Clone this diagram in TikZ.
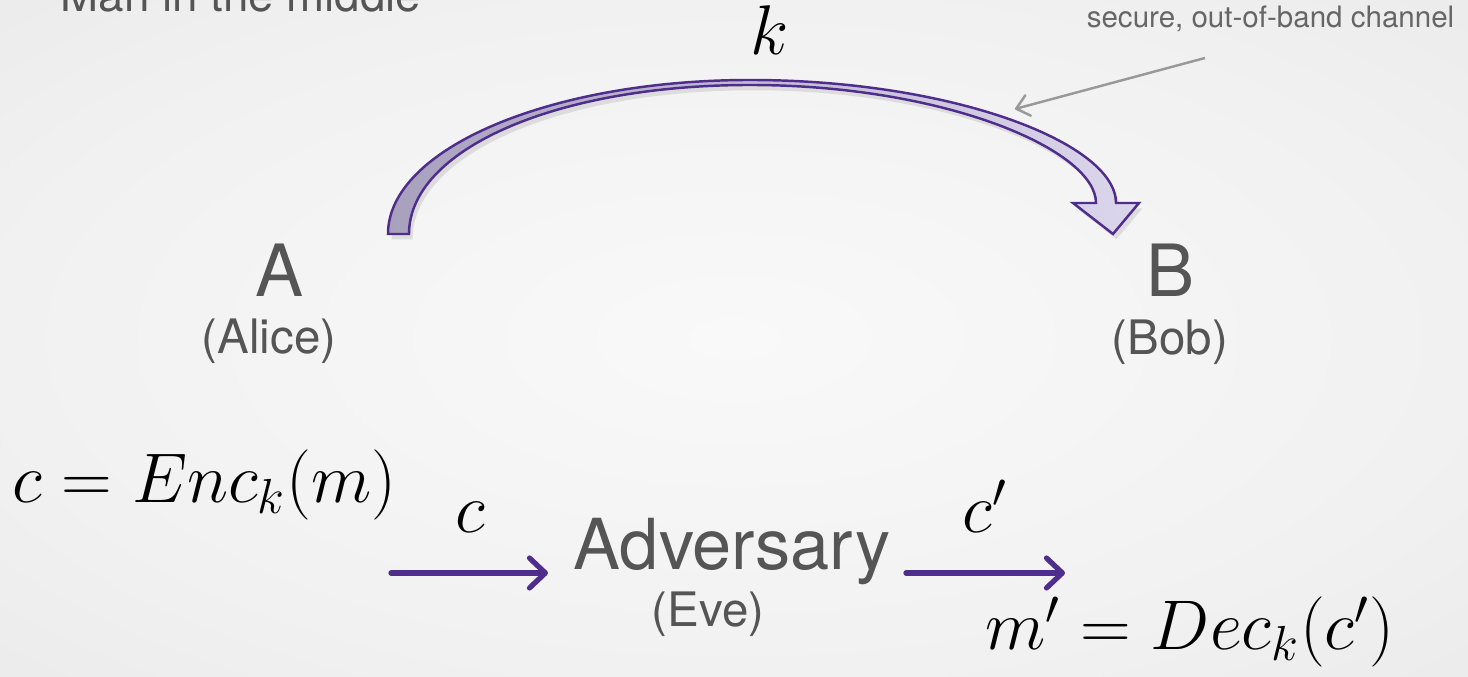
\RequirePackage{fix-cm}
\documentclass[tikz,border=0pt]{standalone}
\usepackage{fontspec}
\newfontfamily\slidefont{TeX Gyre Heros}
\usetikzlibrary{arrows.meta,shadows}
\definecolor{evil}{HTML}{4F2D8C}
\definecolor{slidegray}{HTML}{555555}
\definecolor{notegray}{HTML}{666666}
\definecolor{bandleft}{HTML}{A7A1BE}
\definecolor{bandright}{HTML}{DCD6EC}
\definecolor{bgin}{HTML}{F9F9F9}
\definecolor{bgmid}{HTML}{F1F1F1}
\definecolor{bgout}{HTML}{E4E4E4}
\definecolor{bgcorner}{HTML}{D8D8D8}
\pgfdeclareradialshading{slidebg}{\pgfpoint{0bp}{0bp}}{color(0bp)=(bgin); color(25bp)=(bgmid); color(50bp)=(bgout); color(71bp)=(bgcorner)}
\tikzset{slide/.style={inner sep=0pt,text=slidegray,font=\slidefont},
  who/.style={slide,font=\slidefont\fontsize{20.5}{24}\selectfont},
  alias/.style={slide,font=\slidefont\fontsize{13.5}{16}\selectfont},
  formula/.style={inner sep=0pt,font=\fontsize{20}{24}\selectfont},
  flow/.style={line width=1.5pt,draw=evil,line cap=round,-{Straight Barb[length=4.5pt,width=8.5pt,round]}},
  pointer/.style={line width=0.7pt,draw=black!40,-{Straight Barb[length=3.5pt,width=6pt,round]}},
  band/.style={draw=evil,line width=0.7pt,left color=bandleft,right color=bandright,
    drop shadow={shadow xshift=1pt,shadow yshift=-1.5pt,opacity=0.2}}}

\begin{document}
\begin{tikzpicture}[x=0.01cm,y=-0.01cm]
\shade[shading=slidebg] (0,0) rectangle (1468,677);
\useasboundingbox (0,0) rectangle (1468,677);
% title and key channel
\node[slide,anchor=base west,font=\slidefont\fontsize{13}{15}\selectfont] (title) at (60,12) {Man in the middle};
\node[formula,anchor=base] (key) at (770,55) {$k$};
\node[slide,anchor=base east,text=notegray,font=\slidefont\fontsize{8.4}{10}\selectfont] (note) at (1455,28) {secure, out-of-band channel};
\path[band] (388,234) .. controls (388,149) and (550,80) .. (750,80)
  .. controls (952,80) and (1116,143) .. (1116,203) -- (1139,203) -- (1113,234) -- (1073,203) -- (1096,203)
  .. controls (1096,150) and (945,85) .. (750,85)
  .. controls (555,85) and (409,150) .. (409,234) -- cycle;
\coordinate (pfrom) at (1205,58);
\coordinate (pto) at (1015,109);
\draw[pointer] (pfrom) -- (pto);
% parties
\node[who,anchor=base] (A) at (280,297) {A};
\node[alias,anchor=base] (alice) at (269,354) {(Alice)};
\node[who,anchor=base] (B) at (1171,297) {B};
\node[alias,anchor=base] (bob) at (1170,355) {(Bob)};
% the attack
\node[formula,anchor=base west] (enc) at (12,503) {$c = Enc_k(m)$};
\node[slide,anchor=base,font=\slidefont\fontsize{20}{24}\selectfont] (adv) at (732,570) {Adversary};
\node[alias,anchor=base] (eve) at (708,627) {(Eve)};
\node[formula,anchor=base west] (dec) at (985,650) {$m' = Dec_k(c')$};
\coordinate (cin) at (391,573);
\coordinate (cout) at (1065,573);
\draw[flow,shorten >=0.25cm] (cin) -- (adv.west |- cin);
\draw[flow,shorten <=0.15cm] (adv.east |- cout) -- (cout);
\node[formula,anchor=base] (c) at (470,533) {$c$};
\node[formula,anchor=base] (cprime) at (985,533) {$c'$};
\end{tikzpicture}
\end{document}
